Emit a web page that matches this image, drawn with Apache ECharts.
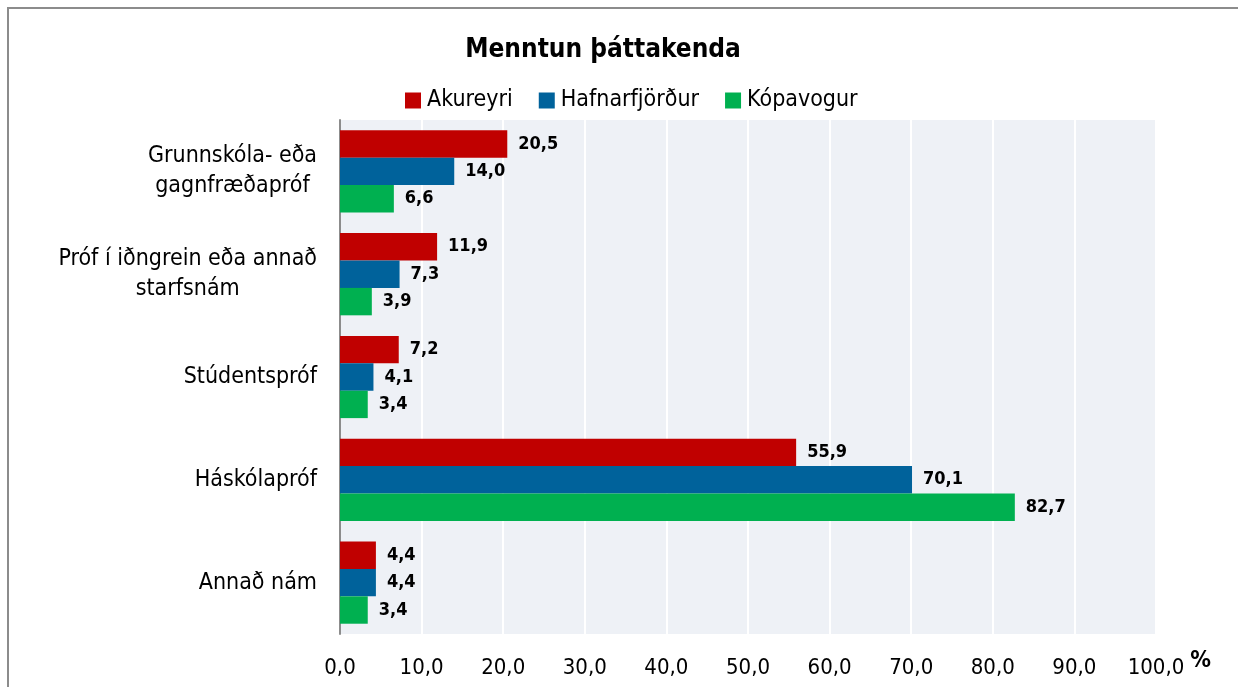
<!DOCTYPE html>
<html>
<head>
<meta charset="utf-8">
<script src="https://cdn.jsdelivr.net/npm/echarts@6/dist/echarts.min.js"></script>
<style>
  html, body { margin: 0; padding: 0; background: #fff; }
  #chart { width: 1238px; height: 687px; }
</style>
</head>
<body>
<div id="chart"></div>
<script>
const categories = [
  "Grunnskóla- eða\ngagnfræðapróf",
  "Próf í iðngrein eða annað\nstarfsnám",
  "Stúdentspróf",
  "Háskólapróf",
  "Annað nám"
];
const seriesNames = ["Akureyri", "Hafnarfjörður", "Kópavogur"];
const akureyri = [20.5, 11.9, 7.2, 55.9, 4.4];
const hafnarfjordur = [14.0, 7.3, 4.1, 70.1, 4.4];
const kopavogur = [6.6, 3.9, 3.4, 82.7, 3.4];
const colors = ["#c00000", "#00629b", "#00b050"];

const fmt = (v) => v.toFixed(1).replace(".", ",");
const font = "'Liberation Sans Narrow', 'DejaVu Sans Condensed', 'Noto Sans', sans-serif";

function makeSeries(name, data, color) {
  return {
    name: name,
    type: "bar",
    data: data,
    barGap: "0%",
    barCategoryGap: "20%",
    itemStyle: { color: color },
    label: {
      show: true,
      position: "right",
      distance: 11,
      color: "#000",
      fontWeight: "bold",
      fontSize: 18,
      fontFamily: font,
      formatter: (p) => fmt(p.value)
    }
  };
}

const chart = echarts.init(document.getElementById("chart"));
chart.setOption({
  animation: false,
  textStyle: { fontFamily: font },
  title: {
    text: "Menntun þáttakenda",
    left: 598,
    top: 32,
    textAlign: "center",
    textStyle: { fontSize: 26, fontWeight: "bold", color: "#000", fontFamily: font }
  },
  legend: {
    data: seriesNames,
    top: 84,
    left: 400,
    itemWidth: 16,
    itemHeight: 16,
    itemGap: 26,
    icon: "rect",
    textStyle: { fontSize: 23, color: "#000", fontFamily: font, padding: [0, 0, 0, 1] }
  },
  graphic: [{
    type: "rect",
    shape: { x: 8, y: 8, width: 1240, height: 700 },
    style: { fill: "none", stroke: "#8c8c8c", lineWidth: 2 },
    silent: true
  }],
  grid: {
    left: 340,
    top: 120,
    right: 82,
    bottom: 53,
    show: true,
    backgroundColor: "#eef1f6",
    borderWidth: 0
  },
  xAxis: {
    type: "value",
    min: 0,
    max: 100,
    interval: 10,
    name: "%",
    nameLocation: "end",
    nameGap: 34,
    nameTextStyle: { fontSize: 23, fontWeight: "bold", color: "#000", verticalAlign: "top", padding: [16, 0, 0, 0] },
    axisLine: { show: false },
    axisTick: { show: false },
    axisLabel: {
      margin: 23,
      fontSize: 22,
      color: "#000",
      formatter: (v) => fmt(v)
    },
    splitLine: { show: true, lineStyle: { color: "#ffffff", width: 2 } }
  },
  yAxis: {
    type: "category",
    data: categories,
    inverse: true,
    axisLine: { show: true, lineStyle: { color: "#8c8c8c", width: 2 } },
    axisTick: { show: false },
    splitLine: { show: false },
    axisLabel: {
      margin: 23,
      fontSize: 23,
      color: "#000",
      align: "right",
      lineHeight: 30,
      formatter: (v) => v.split("\n").map((s) => "{c|" + s + "}").join("\n"),
      rich: { c: { align: "center", fontSize: 23, lineHeight: 30, color: "#000" } }
    }
  },
  series: [
    makeSeries(seriesNames[0], akureyri, colors[0]),
    makeSeries(seriesNames[1], hafnarfjordur, colors[1]),
    makeSeries(seriesNames[2], kopavogur, colors[2])
  ]
});
</script>
</body>
</html>
